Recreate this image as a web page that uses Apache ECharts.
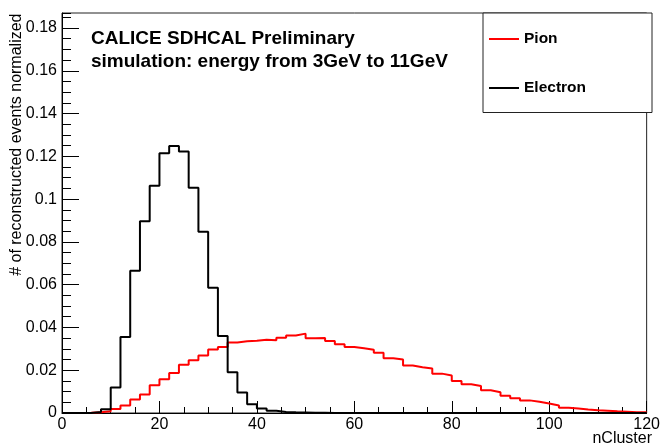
<!DOCTYPE html>
<html>
<head>
<meta charset="utf-8">
<script src="https://cdn.jsdelivr.net/npm/echarts@6/dist/echarts.min.js"></script>
<style>
  html, body { margin: 0; padding: 0; background: #fff; }
  #chart { width: 663px; height: 448px; }
</style>
</head>
<body>
<div id="chart"></div>
<script>
// Histogram binning: 60 bins of width 2 over nCluster 0..120
const X_MIN = 0;
const X_MAX = 120;
const BIN_WIDTH = 2;

// Normalized bin contents, one entry per bin
const pionCounts = [
  0, 0, 0.0001, 0.0004, 0.0008, 0.0019, 0.0035, 0.0063, 0.0086, 0.0130,
  0.0158, 0.0187, 0.0225, 0.0247, 0.0269, 0.0297, 0.0308, 0.0330, 0.0335, 0.0338,
  0.0343, 0.0340, 0.0352, 0.0362, 0.0371, 0.0350, 0.0351, 0.0337, 0.0321, 0.0309,
  0.0303, 0.0296, 0.0282, 0.0256, 0.0250, 0.0222, 0.0214, 0.0208, 0.0184, 0.0175,
  0.0150, 0.0134, 0.0126, 0.0106, 0.0097, 0.0081, 0.0069, 0.0059, 0.0053, 0.0044,
  0.0035, 0.0025, 0.0021, 0.0016, 0.0013, 0.0011, 0.0008, 0.0006, 0.0004, 0.0003
];
const electronCounts = [
  0, 0, 0, 0.0005, 0.0018, 0.0119, 0.0355, 0.0665, 0.0897, 0.1062,
  0.1214, 0.1248, 0.1223, 0.1053, 0.0847, 0.0585, 0.0360, 0.0190, 0.0096, 0.0041,
  0.0021, 0.0011, 0.0005, 0.0003, 0.0002, 0.0001, 0.0001, 0, 0, 0,
  0, 0, 0, 0, 0, 0, 0, 0, 0, 0,
  0, 0, 0, 0, 0, 0, 0, 0, 0, 0,
  0, 0, 0, 0, 0, 0, 0, 0, 0, 0
];

const seriesNames = ['Pion', 'Electron'];
const xTickStep = 20;
const yTickStep = 0.02;
const yMax = 0.187;

const titleLines = ['CALICE SDHCAL Preliminary', 'simulation: energy from 3GeV to 11GeV'];
const xTitle = 'nCluster';
const yTitle = '# of reconstructed events normalized';

// Turn bin contents into step-line points at each bin's low edge, closing at the last edge
function histPoints(counts) {
  const pts = counts.map((v, i) => [X_MIN + i * BIN_WIDTH, v]);
  pts.push([X_MIN + counts.length * BIN_WIDTH, counts[counts.length - 1]]);
  return pts;
}

const FONT = "'Liberation Sans', Arial, Helvetica, sans-serif";

const chart = echarts.init(document.getElementById('chart'), null, { renderer: 'canvas' });

const histStyle = (color) => ({
  type: 'line',
  step: 'end',
  symbol: 'none',
  animation: false,
  color: color,
  itemStyle: { color: color },
  lineStyle: { color: color, width: 2 },
  xAxisIndex: 0,
  yAxisIndex: 0
});

const legendText = { color: '#000', fontFamily: FONT, fontWeight: 'bold', fontSize: 15.5, lineHeight: 16 };

chart.setOption({
  backgroundColor: '#fff',
  animation: false,
  grid: {
    left: 62, right: 11, top: 13, bottom: 35,
    show: true, borderColor: '#222', borderWidth: 1, backgroundColor: 'transparent'
  },
  xAxis: [{
    type: 'value', min: X_MIN, max: X_MAX, interval: xTickStep,
    axisLine: { show: true, onZero: false, lineStyle: { color: '#000', width: 1 } },
    axisTick: { show: true, inside: true, length: 12, lineStyle: { color: '#000', width: 1 } },
    minorTick: { show: true, splitNumber: 4, length: 6, lineStyle: { color: '#000', width: 1 } },
    splitLine: { show: false },
    axisLabel: { color: '#000', fontFamily: FONT, fontSize: 16, margin: 4 }
  }],
  yAxis: [{
    type: 'value', min: 0, max: yMax, interval: yTickStep,
    axisLine: { show: true, onZero: false, lineStyle: { color: '#000', width: 1 } },
    axisTick: { show: true, inside: true, length: 17, lineStyle: { color: '#000', width: 1 } },
    splitLine: { show: false },
    axisLabel: {
      color: '#000', fontFamily: FONT, fontSize: 16, margin: 5, showMaxLabel: false,
      formatter: (v) => String(+v.toFixed(3))
    }
  }, {
    // minor ticks every 0.005
    type: 'value', min: 0, max: yMax, interval: 0.005, position: 'left',
    axisLine: { show: false },
    axisTick: { show: true, inside: true, length: 9, lineStyle: { color: '#000', width: 1 } },
    splitLine: { show: false },
    axisLabel: { show: false }
  }],
  legend: [{
    data: [seriesNames[0]], orient: 'vertical', left: 489, top: 31, padding: 0, z: 20,
    icon: 'rect', itemWidth: 30, itemHeight: 2, selectedMode: false, textStyle: legendText
  }, {
    data: [seriesNames[1]], orient: 'vertical', left: 489, top: 80, padding: 0, z: 20,
    icon: 'rect', itemWidth: 30, itemHeight: 2, selectedMode: false, textStyle: legendText
  }],
  graphic: [
    { type: 'rect', z: 1, shape: { x: 483, y: 13, width: 169, height: 99.5 },
      style: { fill: '#fff', stroke: '#222', lineWidth: 1 } },
    { type: 'text', z: 10, x: 91, y: 38.5,
      style: { text: titleLines[0], fill: '#000', font: 'bold 19px ' + FONT, verticalAlign: 'middle', align: 'left' } },
    { type: 'text', z: 10, x: 91, y: 61.5,
      style: { text: titleLines[1], fill: '#000', font: 'bold 19px ' + FONT, verticalAlign: 'middle', align: 'left' } },
    { type: 'text', z: 10, x: 652, y: 439,
      style: { text: xTitle, fill: '#000', font: '16px ' + FONT, verticalAlign: 'middle', align: 'right' } },
    { type: 'text', z: 10, x: 17, y: 13.5, rotation: Math.PI / 2,
      style: { text: yTitle, fill: '#000', font: '16px ' + FONT, verticalAlign: 'middle', align: 'right' } }
  ],
  series: [
    Object.assign(histStyle('#ff0000'), { name: seriesNames[0], data: histPoints(pionCounts), z: 3 }),
    Object.assign(histStyle('#000000'), { name: seriesNames[1], data: histPoints(electronCounts), z: 4 })
  ]
});
</script>
</body>
</html>
